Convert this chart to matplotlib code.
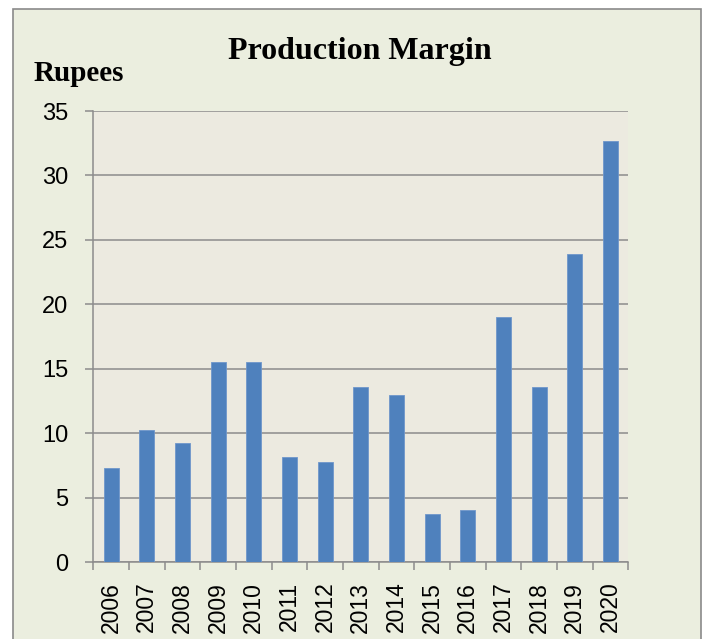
import matplotlib
matplotlib.use("Agg")
import matplotlib.pyplot as plt
from matplotlib.patches import Rectangle
import numpy as np

years = ["2006", "2007", "2008", "2009", "2010", "2011", "2012", "2013",
         "2014", "2015", "2016", "2017", "2018", "2019", "2020"]
margin = [7.3, 10.25, 9.25, 15.5, 15.55, 8.2, 7.8, 13.6,
          13.0, 3.75, 4.05, 19.05, 13.6, 23.9, 32.65]
yticks = [0, 5, 10, 15, 20, 25, 30, 35]
title = "Production Margin"
ylabel = "Rupees"

W, H = 703, 639
fig = plt.figure(figsize=(W / 100, H / 100), dpi=100, facecolor="white")

# outer chart frame
frame = Rectangle((13 / W, -0.01), (701 - 13) / W, 1.01 - 9 / H, transform=fig.transFigure,
                  facecolor="#EBEEDF", edgecolor="#8A8A8A", linewidth=1.2, zorder=-5)
fig.patches.append(frame)

ax = fig.add_axes([93.3 / W, 1 - 562.3 / H, (628.3 - 93.3) / W, (562.3 - 111) / H])
ax.set_zorder(2)
ax.set_facecolor("#ECEAE0")

x = np.arange(len(years))
ax.bar(x, margin, width=0.42, color="#4F81BD", edgecolor="#6F97CB", linewidth=0.6, zorder=3)

ax.set_xlim(-0.5, len(years) - 0.5)
ax.set_ylim(0, 35)
ax.set_yticks(yticks)
ax.set_yticklabels([str(v) for v in yticks], fontsize=17, family="Liberation Sans")
ax.yaxis.grid(True, color="#8C8C8C", linewidth=1.1, zorder=1)
ax.set_axisbelow(True)

ax.set_xticks(x)
ax.set_xticklabels(years, rotation=90, fontsize=16.5, family="Liberation Sans")
ax.set_xticks(np.arange(-0.5, len(years), 1.0), minor=True)
ax.tick_params(axis="x", which="major", length=0, pad=14)
ax.tick_params(axis="x", which="minor", length=6, width=1.1, color="#8C8C8C", direction="out")
ax.tick_params(axis="y", length=6, width=1.1, color="#8C8C8C", pad=12, direction="out")

for s in ["top", "right"]:
    ax.spines[s].set_visible(False)
for s in ["left", "bottom"]:
    ax.spines[s].set_color("#8C8C8C")
    ax.spines[s].set_linewidth(1.1)

fig.text(360 / W, 1 - 59 / H, title, ha="center", va="baseline",
         fontsize=23, fontweight="bold", family="Liberation Serif")
fig.text(34 / W, 1 - 81 / H, ylabel, ha="left", va="baseline",
         fontsize=21, fontweight="bold", family="Liberation Serif")

fig.savefig("out.png", dpi=100, facecolor="white")
